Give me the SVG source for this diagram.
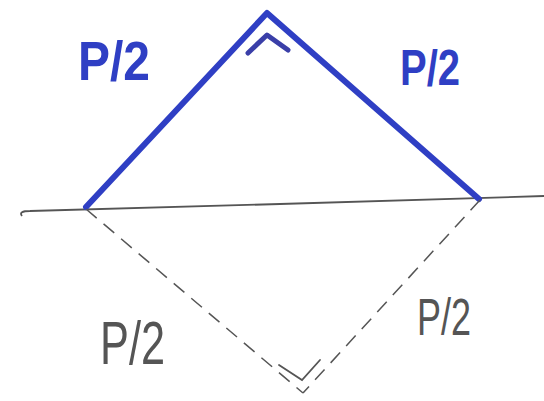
<svg xmlns="http://www.w3.org/2000/svg" width="544" height="401" viewBox="0 0 544 401">
<style>
.blue{fill:none;stroke:#2f3fc4;stroke-width:6;stroke-linecap:round;stroke-linejoin:round}
.mark{fill:none;stroke:#3a3fa8;stroke-width:5;stroke-linecap:round;stroke-linejoin:round}
.dash{fill:none;stroke:#555;stroke-width:1.5;stroke-dasharray:14 9}
.base{fill:none;stroke:#555;stroke-width:1.8}
.lb{font-family:"Liberation Sans",Arial,sans-serif;font-weight:bold;fill:#2f3fc4}
.lg{font-family:"Liberation Sans",Arial,sans-serif;fill:#555}
</style>
<rect width="544" height="401" fill="#fff"/>
<g id="connectors">
<path class="base" d="M22 216 Q18 211 30 211 L280 204 L544 196"/>
<polyline class="blue" points="86,207 267,13 479,199"/>
<path class="mark" d="M248 53 L267 35 L288 50"/>
<path class="dash" d="M86 209 L303 393"/>
<path class="dash" d="M480 200 L303 393"/>
<path fill="none" stroke="#555" stroke-width="1.8" stroke-linecap="round" d="M279 365 L302 380 L320 360"/>
</g>
<g id="label-top-left"><text class="lb" x="78" y="80" font-size="56" textLength="72" lengthAdjust="spacingAndGlyphs">P/2</text></g>
<g id="label-top-right"><text class="lb" x="400" y="85" font-size="50" textLength="60" lengthAdjust="spacingAndGlyphs">P/2</text></g>
<g id="label-bottom-left"><text class="lg" x="100" y="364" font-size="62" textLength="65" lengthAdjust="spacingAndGlyphs">P/2</text></g>
<g id="label-bottom-right"><text class="lg" x="417" y="335" font-size="52" textLength="54" lengthAdjust="spacingAndGlyphs">P/2</text></g>
</svg>
